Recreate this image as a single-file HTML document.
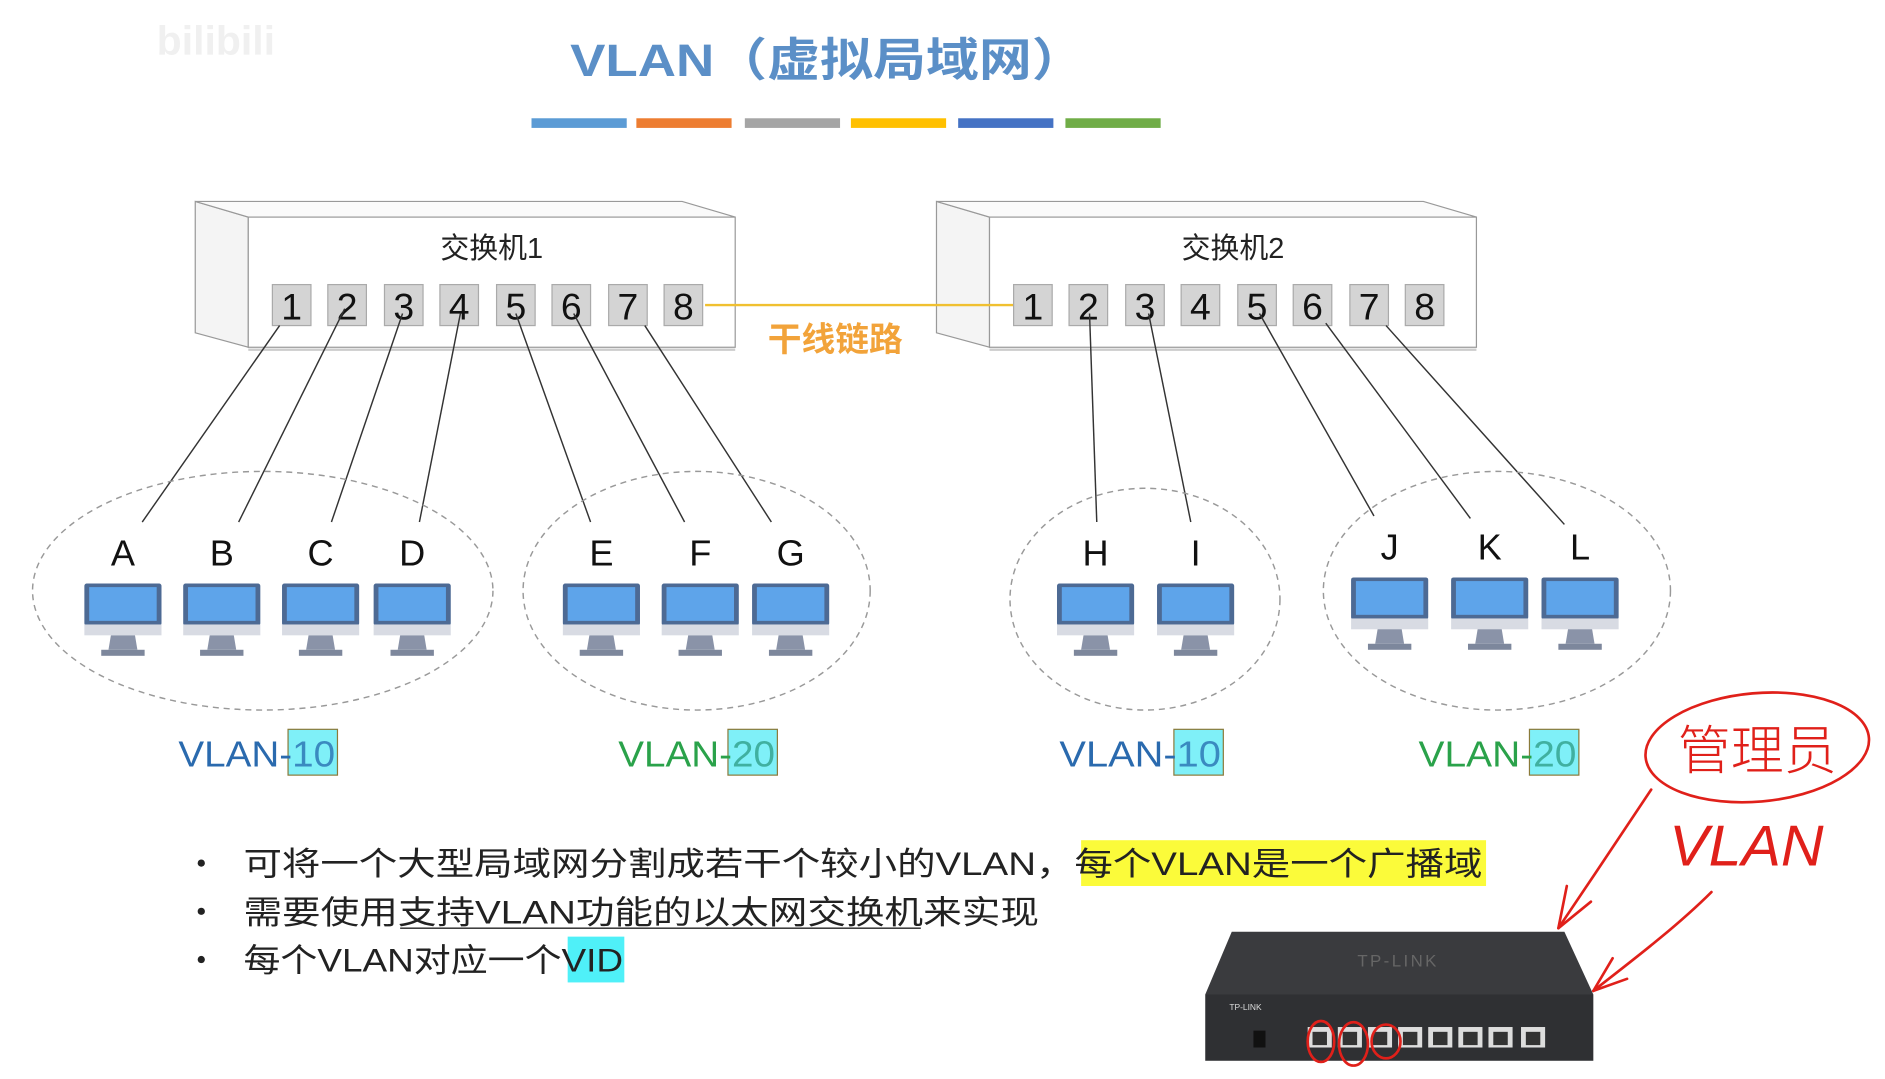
<!DOCTYPE html>
<html><head><meta charset="utf-8"><style>
html,body{margin:0;padding:0;background:#fff;}
svg{display:block;}
text{font-family:"Liberation Sans","Noto Sans CJK SC",sans-serif;}
</style></head><body>
<svg width="1885" height="1079" viewBox="0 0 1564 895" xmlns="http://www.w3.org/2000/svg">
<defs>
<g id="mon">
<rect x="-32" y="0" width="64" height="35" rx="2" fill="#4d6a94"/>
<rect x="-28" y="3" width="56" height="28" fill="#5ea4ea"/>
<rect x="-32" y="34" width="64" height="9" fill="#d8dbe3"/>
<polygon points="-10,43 10,43 12,55 -12,55" fill="#8a93a8"/>
<rect x="-18" y="55" width="36" height="5" fill="#7d879c"/>
</g>
<g id="sw">
<polygon points="0,0 44,13 44,121 0,109" fill="#f4f4f4" stroke="#999" stroke-width="1"/>
<polygon points="0,0 404,0 448,13 44,13" fill="#fafafa" stroke="#999" stroke-width="1"/>
<rect x="44" y="13" width="404" height="108" fill="#fff" stroke="#999" stroke-width="1"/>
<line x1="44" y1="123" x2="448" y2="123" stroke="#ccc" stroke-width="2"/>
</g>
</defs>
<text x="130" y="45" font-size="34" fill="#f0f0f0" font-weight="bold">bilibili</text>
<text x="473" y="63" font-size="38" font-weight="bold" fill="#5b8fc7" textLength="427" lengthAdjust="spacingAndGlyphs">VLAN（虚拟局域网）</text>
<rect x="441" y="98" width="79" height="8" fill="#5b9bd5"/>
<rect x="528" y="98" width="79" height="8" fill="#ed7d31"/>
<rect x="618" y="98" width="79" height="8" fill="#a5a5a5"/>
<rect x="706" y="98" width="79" height="8" fill="#ffc000"/>
<rect x="795" y="98" width="79" height="8" fill="#4472c4"/>
<rect x="884" y="98" width="79" height="8" fill="#70ad47"/>

<use href="#sw" x="162" y="167"/>
<use href="#sw" x="777" y="167"/>
<text x="408" y="214" font-size="24" text-anchor="middle" fill="#222">交换机1</text>
<text x="1023" y="214" font-size="24" text-anchor="middle" fill="#222">交换机2</text>
<line x1="585" y1="253" x2="842" y2="253" stroke="#f0c030" stroke-width="2"/>
<text x="693" y="291" font-size="28" font-weight="bold" text-anchor="middle" fill="#f2a33a">干线链路</text>
<g font-size="31" text-anchor="middle" fill="#111">
<g fill="#d4d4d4" stroke="#aaa" stroke-width="1">
<rect x="226" y="236" width="32" height="34"/><rect x="272" y="236" width="32" height="34"/><rect x="319" y="236" width="32" height="34"/><rect x="365" y="236" width="32" height="34"/><rect x="412" y="236" width="32" height="34"/><rect x="458" y="236" width="32" height="34"/><rect x="505" y="236" width="32" height="34"/><rect x="551" y="236" width="32" height="34"/>
<rect x="841" y="236" width="32" height="34"/><rect x="887" y="236" width="32" height="34"/><rect x="934" y="236" width="32" height="34"/><rect x="980" y="236" width="32" height="34"/><rect x="1027" y="236" width="32" height="34"/><rect x="1073" y="236" width="32" height="34"/><rect x="1120" y="236" width="32" height="34"/><rect x="1166" y="236" width="32" height="34"/>
</g>
<text x="242" y="265">1</text><text x="288" y="265">2</text><text x="335" y="265">3</text><text x="381" y="265">4</text><text x="428" y="265">5</text><text x="474" y="265">6</text><text x="521" y="265">7</text><text x="567" y="265">8</text>
<text x="857" y="265">1</text><text x="903" y="265">2</text><text x="950" y="265">3</text><text x="996" y="265">4</text><text x="1043" y="265">5</text><text x="1089" y="265">6</text><text x="1136" y="265">7</text><text x="1182" y="265">8</text>
</g>
<g stroke="#333" stroke-width="1.2">
<line x1="232" y1="270" x2="118" y2="433"/><line x1="286" y1="256" x2="198" y2="433"/><line x1="334" y1="260" x2="275" y2="433"/><line x1="382" y1="260" x2="348" y2="433"/>
<line x1="428" y1="260" x2="490" y2="433"/><line x1="476" y1="260" x2="568" y2="433"/><line x1="535" y1="270" x2="640" y2="433"/>
<line x1="904" y1="260" x2="910" y2="433"/><line x1="953" y1="260" x2="988" y2="433"/><line x1="1045" y1="260" x2="1140" y2="428"/><line x1="1100" y1="268" x2="1220" y2="430"/><line x1="1150" y1="270" x2="1298" y2="435"/>
</g>
<g fill="none" stroke="#999" stroke-width="1.2" stroke-dasharray="5,4">
<ellipse cx="218" cy="490" rx="191" ry="99"/>
<ellipse cx="578" cy="490" rx="144" ry="99"/>
<ellipse cx="950" cy="497" rx="112" ry="92"/>
<ellipse cx="1242" cy="490" rx="144" ry="99"/>
</g>
<g font-size="30" text-anchor="middle" fill="#111">
<text x="102" y="469">A</text><text x="184" y="469">B</text><text x="266" y="469">C</text><text x="342" y="469">D</text>
<text x="499" y="469">E</text><text x="581" y="469">F</text><text x="656" y="469">G</text>
<text x="909" y="469">H</text><text x="992" y="469">I</text>
<text x="1153" y="464">J</text><text x="1236" y="464">K</text><text x="1311" y="464">L</text>
</g>
<use href="#mon" x="102" y="484"/><use href="#mon" x="184" y="484"/><use href="#mon" x="266" y="484"/><use href="#mon" x="342" y="484"/>
<use href="#mon" x="499" y="484"/><use href="#mon" x="581" y="484"/><use href="#mon" x="656" y="484"/>
<use href="#mon" x="909" y="484"/><use href="#mon" x="992" y="484"/>
<use href="#mon" x="1153" y="479"/><use href="#mon" x="1236" y="479"/><use href="#mon" x="1311" y="479"/>

<g font-size="30">
<rect x="239" y="605" width="41" height="38" fill="#7ff0f8" stroke="#8a7a3a"/>
<text x="148" y="636" fill="#2a6aae" textLength="130" lengthAdjust="spacingAndGlyphs">VLAN-<tspan fill="#3a8ac0">10</tspan></text>
<rect x="604" y="605" width="41" height="38" fill="#7ff0f8" stroke="#8a7a3a"/>
<text x="513" y="636" fill="#2aa24a" textLength="130" lengthAdjust="spacingAndGlyphs">VLAN-<tspan fill="#40b0a0">20</tspan></text>
<rect x="974" y="605" width="41" height="38" fill="#7ff0f8" stroke="#8a7a3a"/>
<text x="879" y="636" fill="#2a6aae" textLength="134" lengthAdjust="spacingAndGlyphs">VLAN-<tspan fill="#3a8ac0">10</tspan></text>
<rect x="1269" y="605" width="41" height="38" fill="#7ff0f8" stroke="#8a7a3a"/>
<text x="1177" y="636" fill="#2aa24a" textLength="131" lengthAdjust="spacingAndGlyphs">VLAN-<tspan fill="#40b0a0">20</tspan></text>
</g>

<rect x="897" y="697" width="336" height="38" fill="#fbfb3a"/>
<rect x="471" y="777" width="47" height="38" fill="#4ff0f8"/>
<g font-size="27" fill="#222">
<circle cx="167" cy="716" r="3" fill="#222"/><circle cx="167" cy="756" r="3" fill="#222"/><circle cx="167" cy="796" r="3" fill="#222"/>
<text x="202" y="726" textLength="1028" lengthAdjust="spacingAndGlyphs">可将一个大型局域网分割成若干个较小的VLAN，每个VLAN是一个广播域</text>
<text x="202" y="766" textLength="660" lengthAdjust="spacingAndGlyphs">需要使用支持VLAN功能的以太网交换机来实现</text>
<line x1="332" y1="770" x2="764" y2="770" stroke="#222" stroke-width="1.2"/>
<text x="202" y="806" textLength="315" lengthAdjust="spacingAndGlyphs">每个VLAN对应一个VID</text>
</g>

<polygon points="1022,773 1298,773 1322,825 1000,825" fill="#3a3b3e"/>
<rect x="1000" y="825" width="322" height="55" fill="#2f3033"/>
<text x="1160" y="802" font-size="14" fill="#666" text-anchor="middle" letter-spacing="2">TP-LINK</text>
<text x="1020" y="838" font-size="7" fill="#ddd">TP-LINK</text>
<g fill="#ddd">
<rect x="1085" y="852" width="20" height="17"/><rect x="1110" y="852" width="20" height="17"/><rect x="1135" y="852" width="20" height="17"/><rect x="1160" y="852" width="20" height="17"/><rect x="1185" y="852" width="20" height="17"/><rect x="1210" y="852" width="20" height="17"/><rect x="1235" y="852" width="20" height="17"/><rect x="1262" y="852" width="20" height="17"/>
</g>
<g fill="#333">
<rect x="1089" y="856" width="12" height="11"/><rect x="1114" y="856" width="12" height="11"/><rect x="1139" y="856" width="12" height="11"/><rect x="1164" y="856" width="12" height="11"/><rect x="1189" y="856" width="12" height="11"/><rect x="1214" y="856" width="12" height="11"/><rect x="1239" y="856" width="12" height="11"/><rect x="1266" y="856" width="12" height="11"/>
</g>
<rect x="1040" y="855" width="10" height="14" fill="#111"/>

<g fill="none" stroke="#e0201a" stroke-width="2.2" stroke-linecap="round">
<ellipse cx="1458" cy="620" rx="93" ry="45" transform="rotate(-5 1458 620)"/>
<ellipse cx="1096" cy="864" rx="11" ry="17"/><ellipse cx="1123" cy="866" rx="12" ry="18"/><ellipse cx="1150" cy="864" rx="12" ry="14"/>
<path d="M1370,655 C1340,700 1320,730 1293,770"/>
<path d="M1293,770 L1300,735 M1293,770 L1320,748"/>
<path d="M1420,740 C1390,770 1350,800 1322,822"/>
<path d="M1322,822 L1338,795 M1322,822 L1350,812"/>
</g>
<text x="1458" y="638" font-size="44" fill="#e0201a" text-anchor="middle" font-family="Noto Sans CJK SC,sans-serif" font-weight="300">管理员</text>
<text x="1385" y="718" font-size="48" fill="#e0201a" font-style="italic" font-weight="300" textLength="128" lengthAdjust="spacingAndGlyphs">VLAN</text>
</svg>
</body></html>
